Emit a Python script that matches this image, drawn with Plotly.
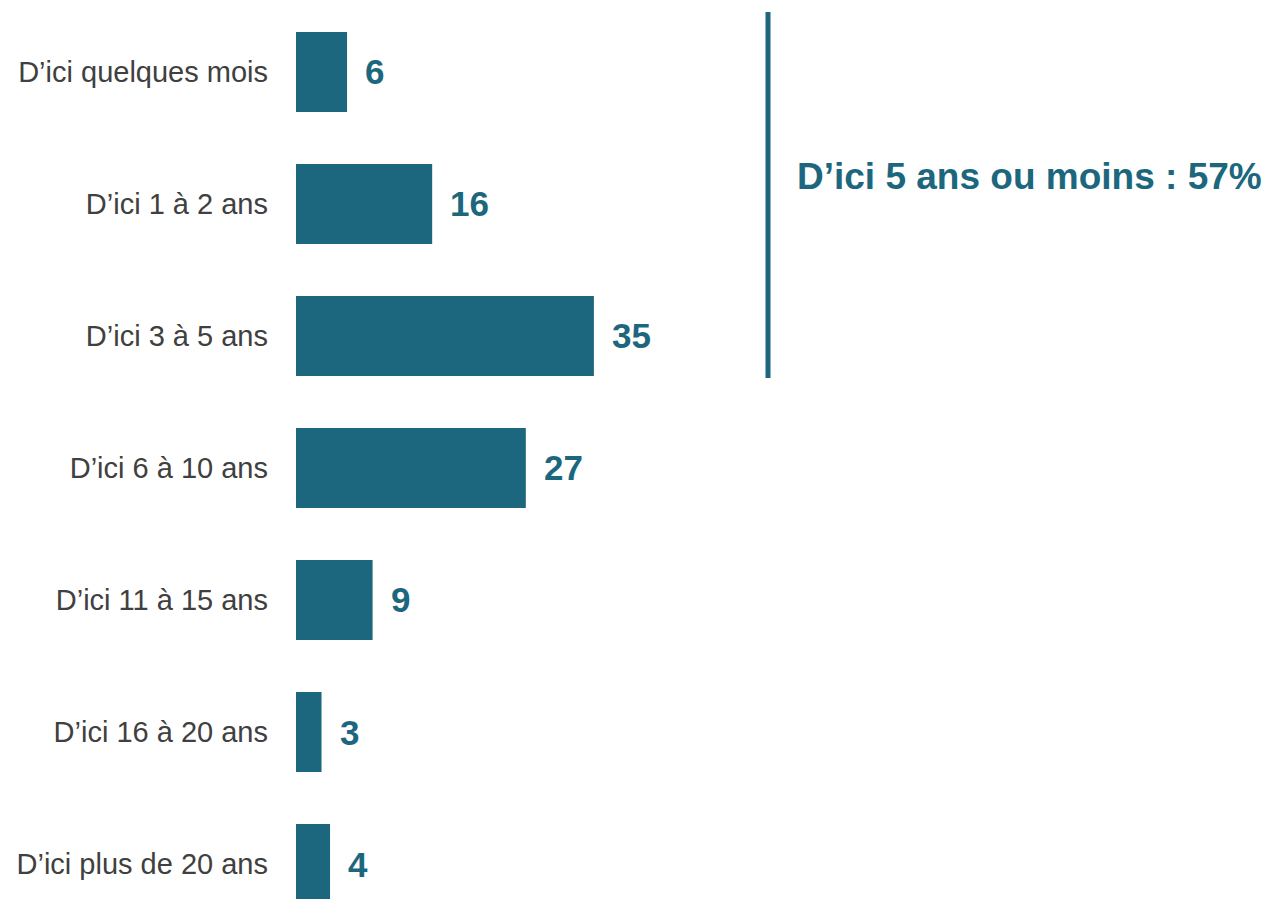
import plotly.graph_objects as go

# Horizon de temps envisagé (en %)
categories = [
    "D’ici quelques mois",
    "D’ici 1 à 2 ans",
    "D’ici 3 à 5 ans",
    "D’ici 6 à 10 ans",
    "D’ici 11 à 15 ans",
    "D’ici 16 à 20 ans",
    "D’ici plus de 20 ans",
]
values = [6, 16, 35, 27, 9, 3, 4]
summary_label = "D’ici 5 ans ou moins : 57%"

BAR_COLOR = "#1D677E"
LABEL_COLOR = "#404040"
FONT = "Liberation Sans, Arial, sans-serif"

fig = go.Figure()
fig.add_trace(go.Bar(
    x=values,
    y=categories,
    orientation="h",
    marker=dict(color=BAR_COLOR, line=dict(width=0)),
    hoverinfo="skip",
))

# Value labels to the right of each bar
for cat, val in zip(categories, values):
    fig.add_annotation(
        x=val, y=cat, xref="x", yref="y",
        text=f"<b>{val}</b>", showarrow=False,
        xanchor="left", yanchor="middle", xshift=16,
        font=dict(family=FONT, size=35, color=BAR_COLOR),
    )

# Bracket line and summary for the first three horizons
fig.add_shape(
    type="line", xref="paper", yref="paper",
    x0=(768 - 296) / 972, x1=(768 - 296) / 972,
    y0=1 - 12 / 899, y1=1 - 378 / 899,
    line=dict(color=BAR_COLOR, width=5),
)
fig.add_annotation(
    xref="paper", yref="paper",
    x=(795 - 296) / 972, y=1 - 177 / 899,
    text=f"<b>{summary_label}</b>", showarrow=False,
    xanchor="left", yanchor="middle",
    font=dict(family=FONT, size=37, color=BAR_COLOR),
)

fig.update_layout(
    width=1268, height=899,
    margin=dict(l=296, r=0, t=0, b=0),
    paper_bgcolor="white", plot_bgcolor="white",
    showlegend=False,
    bargap=0.394,
    font=dict(family=FONT, color=LABEL_COLOR),
)
fig.update_xaxes(range=[0, 114.2], visible=False, fixedrange=True)
fig.update_yaxes(
    type="category",
    range=[6.265, -0.545],
    showgrid=False, zeroline=False, showline=False,
    ticks="", ticklabelstandoff=27,
    tickfont=dict(family=FONT, size=29, color=LABEL_COLOR),
    fixedrange=True,
)

fig.write_html("out.html")
